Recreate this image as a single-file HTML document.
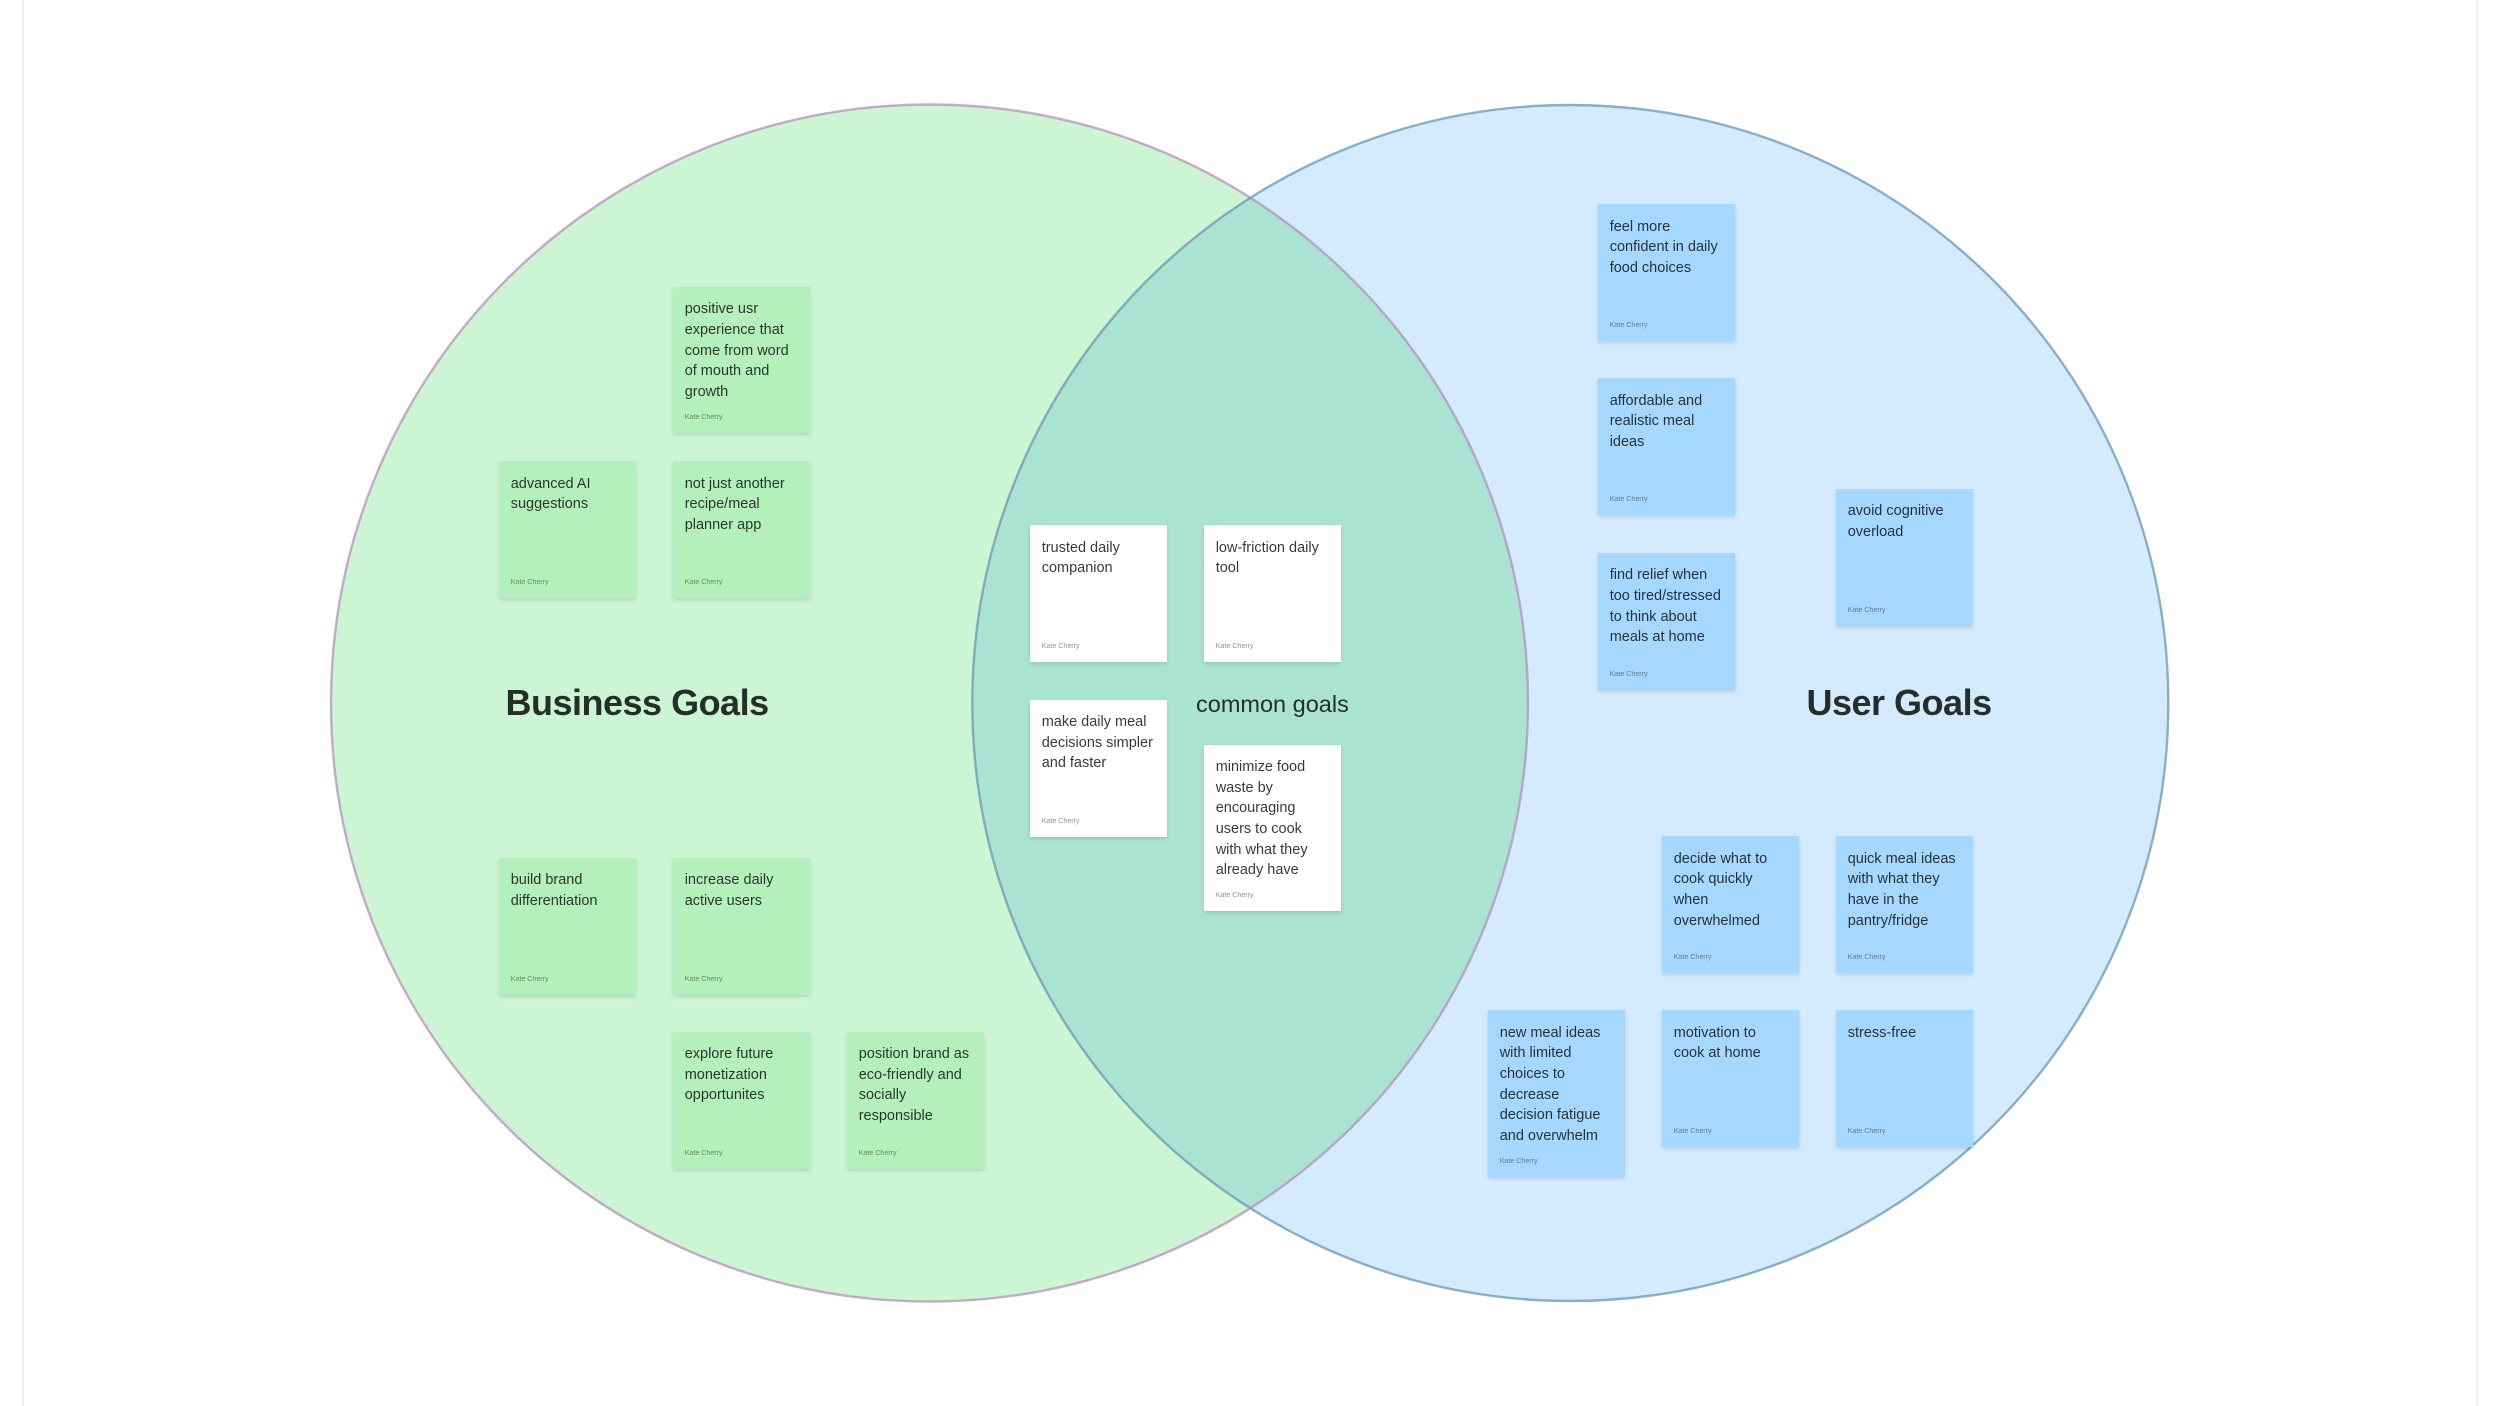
<!DOCTYPE html>
<html lang="en">
<head>
<meta charset="utf-8">
<title>Goals Venn Diagram</title>
<style>
html,body{margin:0;padding:0;background:#fff;}
body{width:2500px;height:1406px;overflow:hidden;position:relative;font-family:"Liberation Sans",sans-serif;}
#w{position:absolute;left:0;top:0;width:2500px;height:1406px;filter:blur(.35px);}
svg{position:absolute;left:0;top:0;}
.rule{position:absolute;top:0;width:2px;height:1406px;background:#f1f1f1;}
.c{position:absolute;width:137px;height:137px;box-shadow:0 2px 4px rgba(0,0,0,.13);box-sizing:border-box;padding:12.5px 0 0 11.5px;font-size:14.5px;line-height:20.67px;color:rgba(0,0,0,.78);white-space:nowrap;}
.c i{position:absolute;left:11.5px;bottom:11px;font-style:normal;font-size:7.1px;line-height:10px;color:rgba(0,0,0,.45);}
.g{background:#b4f0bc;}
.b{background:#a6d8ff;}
.w{background:#fff;}
.t{position:absolute;white-space:nowrap;color:#262e2a;}
.h{font-weight:bold;font-size:36px;letter-spacing:-.5px;line-height:44px;}
</style>
</head>
<body>
<div id="w">
<div class="rule" style="left:22px"></div>
<div class="rule" style="left:2476px"></div>

<svg width="2500" height="1406" viewBox="0 0 2500 1406">
  <defs>
    <clipPath id="lc"><circle cx="929.5" cy="703" r="598.5"/></clipPath>
  </defs>
  <circle cx="929.5" cy="703" r="598.5" fill="#ccf5d4"/>
  <circle cx="1570.3" cy="703" r="598" fill="#d4ebff"/>
  <circle cx="1570.3" cy="703" r="598" fill="#abe3d3" clip-path="url(#lc)"/>
  <circle cx="1570.3" cy="703" r="598" fill="none" stroke="#6a97b2" stroke-opacity=".75" stroke-width="2.4"/>
  <circle cx="929.5" cy="703" r="598.5" fill="none" stroke="#b48cb8" stroke-opacity=".72" stroke-width="2.4"/>
</svg>

<div class="t h" style="left:505.5px;top:681px">Business Goals</div>
<div class="t h" style="left:1806.5px;top:681px">User Goals</div>
<div class="t" style="left:1196px;top:690px;font-size:23.5px;line-height:28px">common goals</div>

<div class="c g" style="left:673.2px;top:286.9px;height:146.2px">positive usr<br>experience that<br>come from word<br>of mouth and<br>growth<i>Kate Cherry</i></div>
<div class="c g" style="left:499.2px;top:461.2px">advanced AI<br>suggestions<i>Kate Cherry</i></div>
<div class="c g" style="left:673.2px;top:461.2px">not just another<br>recipe/meal<br>planner app<i>Kate Cherry</i></div>
<div class="c g" style="left:499.2px;top:857.5px">build brand<br>differentiation<i>Kate Cherry</i></div>
<div class="c g" style="left:673.2px;top:857.5px">increase daily<br>active users<i>Kate Cherry</i></div>
<div class="c g" style="left:673.2px;top:1031.5px">explore future<br>monetization<br>opportunites<i>Kate Cherry</i></div>
<div class="c g" style="left:847.2px;top:1031.5px">position brand as<br>eco-friendly and<br>socially<br>responsible<i>Kate Cherry</i></div>

<div class="c w" style="left:1030.2px;top:525.2px">trusted daily<br>companion<i>Kate Cherry</i></div>
<div class="c w" style="left:1204.2px;top:525.2px">low-friction daily<br>tool<i>Kate Cherry</i></div>
<div class="c w" style="left:1030.2px;top:699.5px">make daily meal<br>decisions simpler<br>and faster<i>Kate Cherry</i></div>
<div class="c w" style="left:1204.2px;top:744.5px;height:166.6px">minimize food<br>waste by<br>encouraging<br>users to cook<br>with what they<br>already have<i>Kate Cherry</i></div>

<div class="c b" style="left:1598.2px;top:204.2px">feel more<br>confident in daily<br>food choices<i>Kate Cherry</i></div>
<div class="c b" style="left:1598.2px;top:378.2px">affordable and<br>realistic meal<br>ideas<i>Kate Cherry</i></div>
<div class="c b" style="left:1598.2px;top:552.8px">find relief when<br>too tired/stressed<br>to think about<br>meals at home<i>Kate Cherry</i></div>
<div class="c b" style="left:1836.2px;top:488.5px">avoid cognitive<br>overload<i>Kate Cherry</i></div>
<div class="c b" style="left:1662.2px;top:836.2px">decide what to<br>cook quickly<br>when<br>overwhelmed<i>Kate Cherry</i></div>
<div class="c b" style="left:1836.2px;top:836.2px">quick meal ideas<br>with what they<br>have in the<br>pantry/fridge<i>Kate Cherry</i></div>
<div class="c b" style="left:1488.2px;top:1010.2px;height:166.6px">new meal ideas<br>with limited<br>choices to<br>decrease<br>decision fatigue<br>and overwhelm<i>Kate Cherry</i></div>
<div class="c b" style="left:1662.2px;top:1010.2px">motivation to<br>cook at home<i>Kate Cherry</i></div>
<div class="c b" style="left:1836.2px;top:1010.2px">stress-free<i>Kate Cherry</i></div>
</div>
</body>
</html>
